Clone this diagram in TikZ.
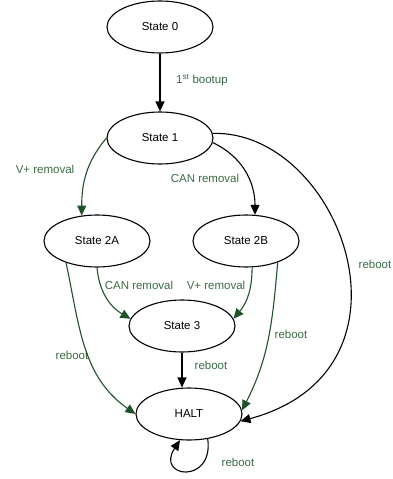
\documentclass[tikz,border=0pt]{standalone}
\usepackage{fontspec}
\setmainfont{Liberation Sans}
\usetikzlibrary{shapes.geometric, arrows.meta}
\definecolor{darkgreen}{RGB}{30,82,42}
\definecolor{labelgreen}{RGB}{58,108,68}

\begin{document}
\begin{tikzpicture}[x=1pt, y=-1pt, font=\fontsize{11.5}{14}\selectfont,
        state/.style={draw, ellipse, line width=1.1pt, minimum width=106pt, minimum height=52pt, inner sep=0pt},
        trans/.style={line width=1.1pt, -{Triangle[length=10pt, width=9pt]}},
        gtrans/.style={trans, darkgreen},
        lbl/.style={text=labelgreen, inner sep=0pt}]
        \useasboundingbox (0,0) rectangle (393,479);
        \node[state] (s0) at (160,27) {State 0};
        \node[state] (s1) at (160,138) {State 1};
        \node[state] (s2a) at (97,241) {State 2A};
        \node[state] (s2b) at (246,241) {State 2B};
        \node[state] (s3) at (182,326) {State 3};
        \node[state] (halt) at (189,414) {HALT};
        \node[lbl, anchor=west] (boot) at (176,80) {1\textsuperscript{st} bootup};
        \node[lbl] (vplusa) at (45,169) {V+ removal};
        \node[lbl] (cana) at (205,178) {CAN removal};
        \node[lbl] (rebootfar) at (375,264) {reboot};
        \node[lbl] (canb) at (139,285) {CAN removal};
        \node[lbl] (vplusb) at (216,285) {V+ removal};
        \node[lbl] (rebootb) at (291,334) {reboot};
        \node[lbl] (reboota) at (72,355) {reboot};
        \node[lbl] (rebootc) at (211,365) {reboot};
        \node[lbl] (rebootloop) at (238,462) {reboot};
        \draw[trans] (s0) -- (s1);
        \draw[gtrans] (s1.west) to[out=230, in=90] (s2a.121);
        \draw[trans] (s1.-5) to[out=-25, in=90] (s2b.71);
        \draw[trans] (s1.5) .. controls (340,130) and (430,370) .. (halt.-8);
        \draw[gtrans] (s2a.south) to[out=-85, in=150] (s3.172);
        \draw[gtrans] (s2a.215) to[out=-78, in=145] (halt.west);
        \draw[gtrans] (s2b.-77) to[out=-90, in=50] (s3.8);
        \draw[gtrans] (s2b.-34) to[out=-95, in=63] (halt.4);
        \draw[trans] (s3.south) -- (s3.south |- halt.north);
        \draw[trans] (halt.-53) .. controls (214,485) and (155,478) .. (halt.-109);
\end{tikzpicture}
\end{document}
